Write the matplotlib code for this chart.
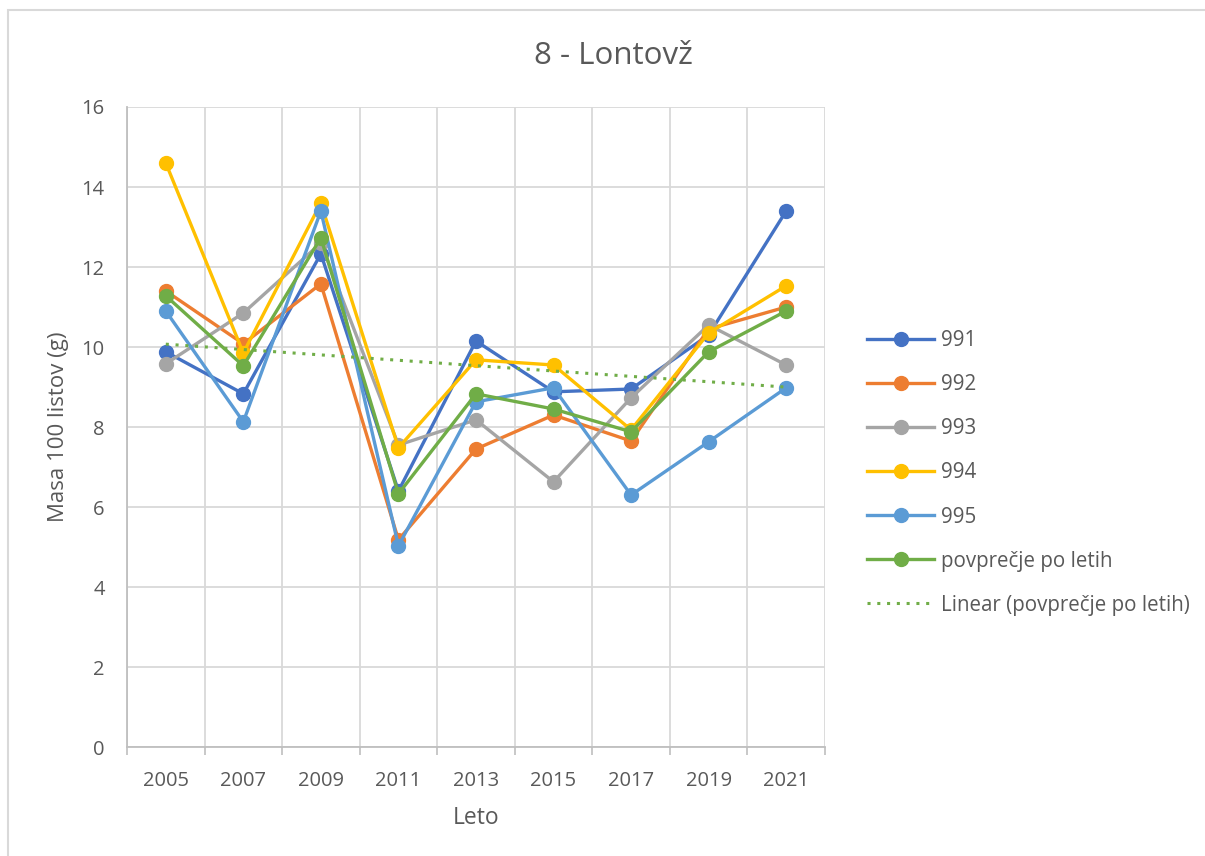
import numpy as np
import matplotlib
matplotlib.use('Agg')
import matplotlib.pyplot as plt
from matplotlib.patches import Rectangle

# year categories on the x axis
years = ['2005', '2007', '2009', '2011', '2013', '2015', '2017', '2019', '2021']

# mass of 100 leaves (g) per tree
s991 = [9.88, 8.83, 12.33, 6.40, 10.15, 8.88, 8.95, 10.30, 13.40]
s992 = [11.40, 10.08, 11.58, 5.18, 7.45, 8.30, 7.65, 10.45, 11.00]
s993 = [9.58, 10.85, 12.60, 7.55, 8.18, 6.63, 8.73, 10.55, 9.55]
s994 = [14.60, 9.85, 13.60, 7.48, 9.68, 9.55, 7.93, 10.35, 11.53]
s995 = [10.90, 8.13, 13.40, 5.03, 8.63, 8.98, 6.30, 7.63, 8.98]
avg = [11.28, 9.53, 12.73, 6.33, 8.83, 8.45, 7.88, 9.88, 10.90]

labels = ['991', '992', '993', '994', '995', 'povprečje po letih']
colors = ['#4472C4', '#ED7D31', '#A5A5A5', '#FFC000', '#5B9BD5', '#70AD47']

plt.rcParams['font.family'] = ['Open Sans', 'DejaVu Sans']
text_col = '#595959'
grid_col = '#D9D9D9'

fig = plt.figure(figsize=(12.05, 8.56), dpi=100)
ax = fig.add_axes([0.1054, 0.1273, 0.5792, 0.7477])

x = np.arange(len(years))
series = [s991, s992, s993, s994, s995, avg]
for vals, lab, col in zip(series, labels, colors):
    ax.plot(x, vals, color=col, lw=2.4, marker='o', markersize=10,
            label=lab, solid_joinstyle='round', zorder=3)

# linear trendline of the yearly average (Excel style, x = 1..n)
k, b = np.polyfit(x + 1, avg, 1)
ax.plot(x, k * (x + 1) + b, color='#70AD47', lw=2.2, ls=(0, (1, 2.2)),
        label='Linear (povprečje po letih)', zorder=4)

# axes and grid
ax.set_xlim(-0.5, len(years) - 0.5)
ax.set_ylim(0, 16)
ax.set_yticks(range(0, 17, 2))
ax.set_xticks(x)
ax.set_xticklabels(years)
ax.set_xticks(np.arange(-0.5, len(years), 1), minor=True)
ax.grid(True, which='minor', axis='x', color=grid_col, lw=1.3)
ax.grid(True, which='major', axis='y', color=grid_col, lw=1.3)
ax.set_axisbelow(True)
ax.tick_params(axis='x', which='major', length=0, pad=17, labelsize=14.5, labelcolor=text_col)
ax.tick_params(axis='x', which='minor', length=6, color='#BFBFBF', width=1.2)
ax.tick_params(axis='y', length=0, pad=16, labelsize=14.5, labelcolor=text_col)
for side in ['top', 'right']:
    ax.spines[side].set_visible(False)
ax.spines['left'].set_color('#BFBFBF')
ax.spines['left'].set_linewidth(1.3)
ax.spines['bottom'].set_color('#BFBFBF')
ax.spines['bottom'].set_linewidth(1.3)

ax.set_xlabel('Leto', fontsize=16.5, color=text_col, labelpad=11)
ax.set_ylabel('Masa 100 listov (g)', fontsize=16, color=text_col, labelpad=9)
fig.text(0.5087, 0.934, '8 - Lontovž', fontsize=22.5, color=text_col, ha='center', va='center')

leg = fig.legend(loc='upper left', bbox_to_anchor=(0.7195, 0.614), frameon=False,
                 fontsize=14.8, labelspacing=1.12, handlelength=3.27, handletextpad=0.35,
                 borderpad=0, borderaxespad=0)
for t in leg.get_texts():
    t.set_color(text_col)

# chart border (only top and left edges fall inside the picture)
fig.patches.append(Rectangle((8 / 1205, -0.1), 1.2, 1.1 - 10 / 856, transform=fig.transFigure,
                             fill=False, edgecolor='#D9D9D9', lw=1.5))

fig.savefig('out.png', dpi=100)
